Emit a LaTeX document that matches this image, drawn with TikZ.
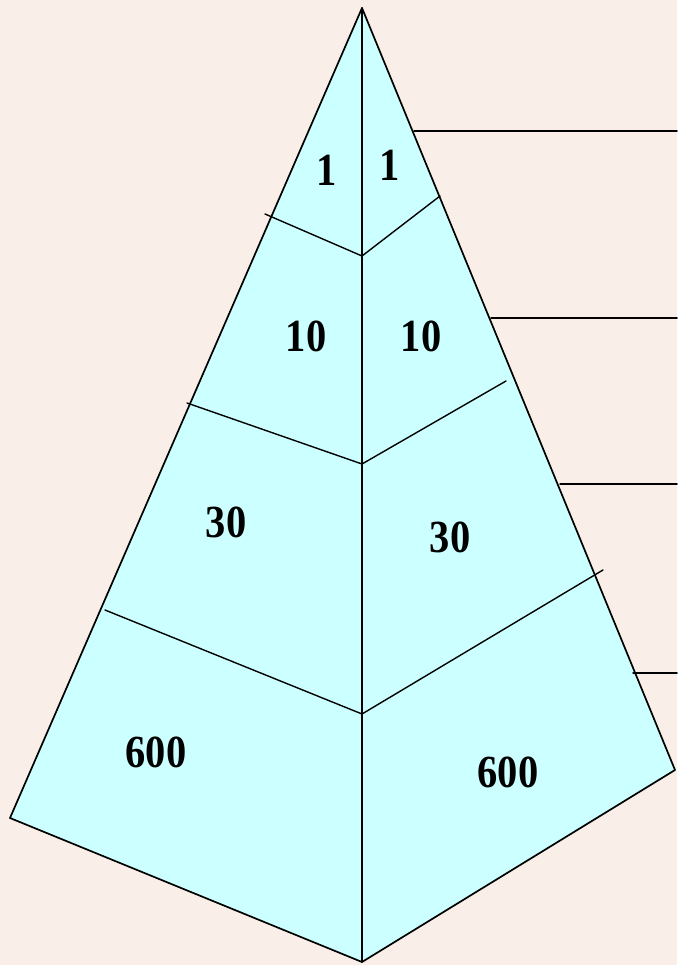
\documentclass[tikz,border=0pt]{standalone}
\usepackage{fontspec}
\setmainfont{Liberation Serif}
\newfontfamily\numfont[FakeStretch=0.88]{Liberation Serif}
\definecolor{facecyan}{HTML}{CCFFFF}
\definecolor{paper}{HTML}{FAEFE8}
\tikzset{
  edge/.style={line width=1.7pt},
  divider/.style={line width=1.4pt},
  leader/.style={line width=1.5pt},
  count/.style={font=\numfont\bfseries\fontsize{46}{46}\selectfont, inner sep=0pt}
}
\begin{document}
\begin{tikzpicture}[x=1pt, y=-1pt, line join=round, line cap=round]
  \fill[paper] (0,0) rectangle (677,965);
  \useasboundingbox (0,0) rectangle (677,965);
  % corners of the pyramid
  \coordinate (apex) at (362,8);
  \coordinate (lft) at (10,818);
  \coordinate (rgt) at (675,770);
  \coordinate (bot) at (362,962);
  % points on the middle edge
  \coordinate (m1) at (362,256);
  \coordinate (m2) at (362,464);
  \coordinate (m3) at (362,714);
  % ends of the dividers
  \coordinate (l1) at (265,214);
  \coordinate (l2) at (187,403);
  \coordinate (l3) at (105,610);
  \coordinate (r1) at (440,196);
  \coordinate (r2) at (506,381);
  \coordinate (r3) at (603,570);
  % leaders to the right
  \coordinate (s1) at (414,131);  \coordinate (e1) at (677,131);
  \coordinate (s2) at (491,318);  \coordinate (e2) at (677,318);
  \coordinate (s3) at (560,484);  \coordinate (e3) at (677,484);
  \coordinate (s4) at (633,673);  \coordinate (e4) at (677,673);

  \filldraw[fill=facecyan, edge] (apex)--(lft)--(bot)--(rgt)--cycle;
  \draw[divider] (apex)--(bot);
  \draw[divider] (l1)--(m1)--(r1);
  \draw[divider] (l2)--(m2)--(r2);
  \draw[divider] (l3)--(m3)--(r3);
  \foreach \i in {1,...,4}
    \draw[leader] (s\i)--(e\i);

  \node[count] (a1) at (327,170) {1};
  \node[count] (b1) at (390,165) {1};
  \node[count] (a2) at (306,336) {10};
  \node[count] (b2) at (421,336) {10};
  \node[count] (a3) at (226,522) {30};
  \node[count] (b3) at (450,537) {30};
  \node[count] (a4) at (156,752) {600};
  \node[count] (b4) at (508,772) {600};
\end{tikzpicture}
\end{document}
